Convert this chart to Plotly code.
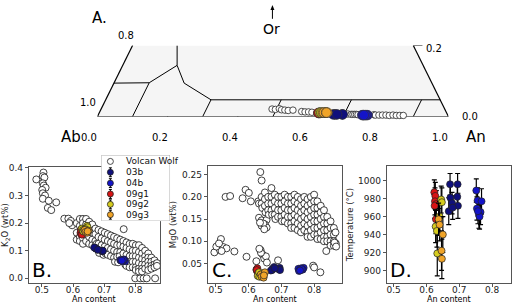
import plotly.graph_objects as go

W, H = 520, 306

# ---------------- data ----------------
# Volcan Wolf plagioclase, panel B (An content, K2O wt%)
vw_b = [
    (0.482, 0.358), (0.505, 0.383), (0.503, 0.370), (0.508, 0.365), (0.503, 0.344), (0.506, 0.336),
    (0.512, 0.328), (0.501, 0.320), (0.503, 0.308), (0.510, 0.300), (0.503, 0.288), (0.522, 0.281),
    (0.519, 0.255), (0.530, 0.247), (0.546, 0.275), (0.572, 0.216), (0.585, 0.216), (0.593, 0.208),
    (0.597, 0.192), (0.588, 0.200), (0.763, 0.178),
    (0.800, 0.0), (0.816, 0.0), (0.827, 0.0), (0.837, 0.0), (0.864, 0.0),
    (0.612, 0.200), (0.612, 0.165), (0.612, 0.140),
    (0.622, 0.215), (0.622, 0.190), (0.622, 0.150), (0.622, 0.135),
    (0.632, 0.215), (0.632, 0.200), (0.632, 0.145), (0.632, 0.125),
    (0.642, 0.215), (0.642, 0.195), (0.642, 0.160), (0.642, 0.135),
    (0.652, 0.205), (0.652, 0.185), (0.652, 0.150), (0.652, 0.125),
    (0.662, 0.195), (0.662, 0.165), (0.662, 0.140), (0.662, 0.120),
    (0.672, 0.180), (0.672, 0.160), (0.672, 0.135), (0.676, 0.125),
    (0.682, 0.175), (0.682, 0.150), (0.682, 0.125), (0.684, 0.092),
    (0.692, 0.170), (0.692, 0.145), (0.692, 0.120), (0.698, 0.085),
    (0.702, 0.165), (0.702, 0.140), (0.702, 0.115), (0.705, 0.090),
    (0.712, 0.160), (0.712, 0.135), (0.712, 0.110), (0.712, 0.085),
    (0.722, 0.155), (0.722, 0.130), (0.722, 0.105), (0.722, 0.080),
    (0.732, 0.150), (0.732, 0.125), (0.732, 0.100), (0.732, 0.075), (0.735, 0.060),
    (0.742, 0.145), (0.742, 0.120), (0.742, 0.095), (0.742, 0.078), (0.745, 0.058),
    (0.752, 0.140), (0.752, 0.120), (0.752, 0.095), (0.750, 0.080),
    (0.762, 0.135), (0.762, 0.115), (0.762, 0.090), (0.768, 0.050),
    (0.772, 0.130), (0.772, 0.110), (0.772, 0.085), (0.772, 0.065), (0.772, 0.045),
    (0.782, 0.125), (0.782, 0.105), (0.782, 0.080), (0.782, 0.060), (0.782, 0.040),
    (0.792, 0.125), (0.792, 0.100), (0.792, 0.080), (0.792, 0.060), (0.792, 0.040),
    (0.802, 0.120), (0.802, 0.100), (0.802, 0.080), (0.802, 0.060), (0.802, 0.040), (0.802, 0.030),
    (0.812, 0.120), (0.812, 0.095), (0.812, 0.075), (0.812, 0.055), (0.812, 0.035), (0.812, 0.025),
    (0.822, 0.110), (0.822, 0.090), (0.822, 0.070), (0.822, 0.050), (0.822, 0.035), (0.822, 0.025),
    (0.832, 0.100), (0.832, 0.080), (0.832, 0.065), (0.832, 0.050), (0.832, 0.035),
    (0.842, 0.090), (0.842, 0.075), (0.842, 0.060), (0.842, 0.045), (0.842, 0.030),
    (0.852, 0.075), (0.852, 0.060), (0.852, 0.045), (0.852, 0.035),
    (0.862, 0.065), (0.862, 0.050), (0.862, 0.040),
    (0.870, 0.055), (0.870, 0.045),
]

# Volcan Wolf plagioclase, panel C (An content, MgO wt%)
vw_c = [
    (0.496, 0.075), (0.508, 0.090), (0.516, 0.105), (0.513, 0.080), (0.523, 0.087), (0.533, 0.084),
    (0.557, 0.077), (0.518, 0.078), (0.502, 0.088), (0.510, 0.095),
    (0.530, 0.200), (0.544, 0.202), (0.582, 0.197), (0.591, 0.216), (0.601, 0.209), (0.607, 0.190),
    (0.594, 0.065), (0.636, 0.256), (0.640, 0.237),
    (0.624, 0.055), (0.637, 0.080), (0.643, 0.070), (0.648, 0.061), (0.653, 0.066), (0.656, 0.052),
    (0.638, 0.074), (0.633, 0.083), (0.690, 0.057), (0.797, 0.045), (0.800, 0.041), (0.819, 0.030),
    (0.632, 0.153), (0.640, 0.147), (0.655, 0.148), (0.650, 0.138), (0.640, 0.135), (0.655, 0.131),
    (0.645, 0.140), (0.635, 0.142), (0.648, 0.127),
    (0.630, 0.190), (0.632, 0.185),
    (0.640, 0.200), (0.640, 0.185), (0.642, 0.175),
    (0.650, 0.210), (0.650, 0.195), (0.650, 0.180), (0.652, 0.165),
    (0.660, 0.200), (0.660, 0.185), (0.660, 0.170), (0.662, 0.160),
    (0.670, 0.220), (0.670, 0.200), (0.670, 0.185), (0.670, 0.170), (0.672, 0.160),
    (0.680, 0.205), (0.680, 0.190), (0.680, 0.175), (0.680, 0.160), (0.682, 0.150),
    (0.690, 0.200), (0.690, 0.185), (0.690, 0.170), (0.690, 0.155),
    (0.700, 0.200), (0.700, 0.185), (0.700, 0.170), (0.700, 0.155), (0.702, 0.145),
    (0.710, 0.205), (0.710, 0.190), (0.710, 0.175), (0.710, 0.160), (0.710, 0.145),
    (0.720, 0.200), (0.720, 0.185), (0.720, 0.170), (0.720, 0.155), (0.720, 0.140),
    (0.730, 0.200), (0.730, 0.185), (0.730, 0.170), (0.730, 0.155), (0.730, 0.140), (0.730, 0.130),
    (0.740, 0.205), (0.740, 0.190), (0.740, 0.175), (0.740, 0.160), (0.740, 0.145), (0.740, 0.130),
    (0.750, 0.200), (0.750, 0.185), (0.750, 0.170), (0.750, 0.155), (0.750, 0.140), (0.750, 0.125),
    (0.760, 0.195), (0.760, 0.180), (0.760, 0.165), (0.760, 0.150), (0.760, 0.135), (0.760, 0.120),
    (0.770, 0.200), (0.770, 0.185), (0.770, 0.170), (0.770, 0.155), (0.770, 0.140), (0.770, 0.125),
    (0.780, 0.195), (0.780, 0.180), (0.780, 0.165), (0.780, 0.150), (0.780, 0.135), (0.780, 0.120),
    (0.780, 0.110),
    (0.790, 0.200), (0.790, 0.185), (0.790, 0.170), (0.790, 0.155), (0.790, 0.140), (0.790, 0.125),
    (0.790, 0.110),
    (0.800, 0.205), (0.800, 0.190), (0.800, 0.175), (0.800, 0.160), (0.800, 0.145), (0.800, 0.130),
    (0.800, 0.115),
    (0.810, 0.190), (0.810, 0.175), (0.810, 0.160), (0.810, 0.145), (0.810, 0.130), (0.810, 0.115),
    (0.810, 0.105),
    (0.820, 0.180), (0.820, 0.165), (0.820, 0.150), (0.820, 0.135), (0.820, 0.120), (0.820, 0.105),
    (0.830, 0.170), (0.830, 0.155), (0.830, 0.140), (0.830, 0.125), (0.830, 0.110), (0.830, 0.100),
    (0.840, 0.155), (0.840, 0.140), (0.840, 0.125), (0.840, 0.110), (0.840, 0.100),
    (0.850, 0.145), (0.850, 0.130), (0.850, 0.115), (0.850, 0.100), (0.850, 0.090),
    (0.860, 0.130), (0.860, 0.115), (0.860, 0.100), (0.860, 0.090),
    (0.865, 0.120), (0.866, 0.095),
    (0.837, 0.078), (0.862, 0.097), (0.867, 0.088),
]

# Volcan Wolf in the ternary (An, Or)
vw_tern_an = [0.487, 0.497, 0.507, 0.515, 0.525, 0.535, 0.548, 0.575, 0.585, 0.595, 0.605, 0.620,
              0.630, 0.700, 0.710, 0.720, 0.725, 0.730, 0.735, 0.740, 0.785, 0.790, 0.800, 0.810,
              0.820, 0.830, 0.840, 0.850, 0.860, 0.870]
vw_tern_or = [0.021, 0.020, 0.022, 0.019, 0.018, 0.017, 0.018, 0.014, 0.013, 0.013, 0.012, 0.011,
              0.010, 0.007, 0.007, 0.006, 0.006, 0.006, 0.006, 0.005, 0.005, 0.004, 0.004, 0.004,
              0.004, 0.003, 0.004, 0.003, 0.003, 0.003]

# Samples of this study
sample_names = ["03b", "04b", "09g1", "09g2", "09g3"]
sample_colors = ["#10107c", "#1414c8", "#d81414", "#d6cc1e", "#f0a428"]

an_03b = [0.672, 0.695, 0.673, 0.694, 0.678, 0.668, 0.696, 0.680]
k2o_03b = [0.110, 0.100, 0.108, 0.098, 0.105, 0.112, 0.100, 0.103]
mgo_03b = [0.035, 0.040, 0.038, 0.036, 0.042, 0.034, 0.035, 0.039]
t_03b = [996, 996, 981, 982, 975, 966, 972, 970]
terr_03b = [12, 12, 13, 13, 12, 15, 14, 13]
or_03b = [0.006, 0.006, 0.006, 0.006, 0.006, 0.006, 0.006, 0.006]

an_04b = [0.752, 0.756, 0.768, 0.765, 0.754, 0.760, 0.762, 0.757]
k2o_04b = [0.066, 0.064, 0.062, 0.068, 0.065, 0.063, 0.067, 0.064]
mgo_04b = [0.038, 0.035, 0.040, 0.036, 0.033, 0.039, 0.037, 0.034]
t_04b = [989, 978, 977, 965, 969, 962, 960, 966]
terr_04b = [13, 14, 14, 14, 13, 15, 14, 14]
or_04b = [0.004, 0.004, 0.004, 0.004, 0.004, 0.004, 0.004, 0.004]

an_09g1 = [0.624, 0.627, 0.626, 0.630, 0.625, 0.629]
k2o_09g1 = [0.165, 0.172, 0.160, 0.168, 0.175, 0.158]
mgo_09g1 = [0.036, 0.039, 0.033, 0.030, 0.035, 0.028]
t_09g1 = [987, 983, 977, 974, 972, 957]
terr_09g1 = [14, 15, 15, 15, 14, 16]
or_09g1 = [0.010, 0.010, 0.010, 0.010, 0.010, 0.010]

an_09g2 = [0.645, 0.647, 0.628, 0.632, 0.633, 0.640]
k2o_09g2 = [0.190, 0.185, 0.180, 0.175, 0.170, 0.178]
mgo_09g2 = [0.028, 0.025, 0.022, 0.030, 0.020, 0.026]
t_09g2 = [979, 976, 949, 944, 919, 960]
terr_09g2 = [15, 16, 18, 18, 25, 17]
or_09g2 = [0.011, 0.011, 0.011, 0.011, 0.011, 0.011]

an_09g3 = [0.637, 0.640, 0.650, 0.646, 0.647]
k2o_09g3 = [0.175, 0.168, 0.172, 0.165, 0.170]
mgo_09g3 = [0.025, 0.020, 0.030, 0.018, 0.023]
t_09g3 = [957, 951, 940, 922, 913]
terr_09g3 = [18, 18, 20, 22, 22]
or_09g3 = [0.011, 0.011, 0.011, 0.011, 0.011]

samples = [
    (an_03b, k2o_03b, mgo_03b, t_03b, terr_03b, or_03b),
    (an_04b, k2o_04b, mgo_04b, t_04b, terr_04b, or_04b),
    (an_09g1, k2o_09g1, mgo_09g1, t_09g1, terr_09g1, or_09g1),
    (an_09g2, k2o_09g2, mgo_09g2, t_09g2, terr_09g2, or_09g2),
    (an_09g3, k2o_09g3, mgo_09g3, t_09g3, terr_09g3, or_09g3),
]

# feldspar field boundaries, as (An, Or) compositions
field_lines = [
    [(0.0, 0.094), (0.1, 0.095), (0.155, 0.144), (0.127, 0.2)],
    [(0.155, 0.144), (0.2, 0.094), (0.3, 0.047), (0.953, 0.047)],
    [(0.1, 0.0), (0.1, 0.095)],
    [(0.3, 0.0), (0.3, 0.047)],
    [(0.5, 0.0), (0.5, 0.047)],
    [(0.7, 0.0), (0.7, 0.047)],
    [(0.9, 0.0), (0.9, 0.047)],
]
tern_bottom_ticks = [0.0, 0.2, 0.4, 0.6, 0.8, 1.0]

# ---------------- helpers ----------------
TX0, TX1, TY0, TY1 = 95, 448, 114, 42   # pixel frame of the ternary strip (Or 0..0.2)


def tx(an, orr):
    return [a + o / 2 for a, o in zip(an, orr)]


def tern_px(an, orr):
    xc = an + orr / 2
    return TX0 + xc * (TX1 - TX0), TY0 - orr / 0.2 * (TY0 - TY1)


def dx(a, b):
    return [a / W, b / W]


def dy(top, bottom):
    return [1 - bottom / H, 1 - top / H]


fig = go.Figure()

# ---------------- panel A: ternary strip ----------------
corners_an = [0.0, 1.0, 0.8, 0.0, 0.0]
corners_or = [0.0, 0.0, 0.2, 0.2, 0.0]
fig.add_trace(go.Scatter(x=tx(corners_an, corners_or), y=corners_or, mode="lines", fill="toself",
                         fillcolor="#f5f5f5", line=dict(width=0), xaxis="x4", yaxis="y4",
                         hoverinfo="skip", showlegend=False))
edge_an = [0.0, 0.0, None, 0.0, 1.0, None, 1.0, 0.8]
edge_or = [0.2, 0.0, None, 0.0, 0.0, None, 0.0, 0.2]
ex = [None if a is None else a + o / 2 for a, o in zip(edge_an, edge_or)]
fig.add_trace(go.Scatter(x=ex, y=edge_or, mode="lines", line=dict(color="black", width=1.2),
                         xaxis="x4", yaxis="y4", hoverinfo="skip", showlegend=False, cliponaxis=False))
fx, fy = [], []
for seg in field_lines:
    for a, o in seg:
        fx.append(a + o / 2)
        fy.append(o)
    fx.append(None)
    fy.append(None)
fig.add_trace(go.Scatter(x=fx, y=fy, mode="lines", line=dict(color="black", width=1),
                         xaxis="x4", yaxis="y4", hoverinfo="skip", showlegend=False))
# tick marks
kx, ky = [], []
for v in tern_bottom_ticks:
    kx += [v, v - 0.007, None]
    ky += [0, -0.014, None]
for o in [0.0, 0.2]:
    kx += [o / 2, o / 2 - 0.0095, None]
    ky += [o, o + 0.0095, None]
    kx += [1 - o / 2, 1 - o / 2 + 0.026, None]
    ky += [o, o, None]
fig.add_trace(go.Scatter(x=kx, y=ky, mode="lines", line=dict(color="black", width=1),
                         xaxis="x4", yaxis="y4", hoverinfo="skip", showlegend=False, cliponaxis=False))
fig.add_trace(go.Scatter(x=tx(vw_tern_an, vw_tern_or), y=vw_tern_or, mode="markers",
                         marker=dict(size=6.5, color="white", line=dict(color="#222", width=0.8)),
                         xaxis="x4", yaxis="y4", showlegend=False, cliponaxis=False))
for (an, k, m, t, te, orr), col in zip(samples, sample_colors):
    fig.add_trace(go.Scatter(x=tx(an, orr), y=orr, mode="markers",
                             marker=dict(size=9.5, color=col, line=dict(color="#333", width=0.6)),
                             xaxis="x4", yaxis="y4", showlegend=False, cliponaxis=False))

# ---------------- panels B, C, D ----------------
wm = dict(size=7, color="white", line=dict(color="#111", width=0.8))
fig.add_trace(go.Scatter(x=[p[0] for p in vw_b], y=[p[1] for p in vw_b], mode="markers", marker=wm,
                         xaxis="x", yaxis="y", showlegend=False, cliponaxis=False))
fig.add_trace(go.Scatter(x=[p[0] for p in vw_c], y=[p[1] for p in vw_c], mode="markers", marker=wm,
                         xaxis="x2", yaxis="y2", showlegend=False, cliponaxis=False))
for (an, k, m, t, te, orr), col in zip(samples, sample_colors):
    cm = dict(size=7, color=col, line=dict(color="#222", width=0.7))
    fig.add_trace(go.Scatter(x=an, y=k, mode="markers", marker=cm, xaxis="x", yaxis="y",
                             error_y=dict(type="constant", value=0.01, color="black", thickness=1, width=2),
                             showlegend=False))
    fig.add_trace(go.Scatter(x=an, y=m, mode="markers", marker=cm, xaxis="x2", yaxis="y2",
                             error_y=dict(type="constant", value=0.004, color="black", thickness=1, width=2),
                             showlegend=False))
    fig.add_trace(go.Scatter(x=an, y=t, mode="markers", marker=cm, xaxis="x3", yaxis="y3",
                             error_y=dict(type="data", array=te, color="black", thickness=1.2, width=2.5),
                             showlegend=False))

# ---------------- custom legend (panel B) ----------------
fig.add_trace(go.Scatter(x=[99, 168, 168, 99, 99], y=[153, 153, 220, 220, 153], mode="lines",
                         fill="toself", fillcolor="white", line=dict(color="#999", width=0.8),
                         xaxis="x5", yaxis="y5", hoverinfo="skip", showlegend=False, cliponaxis=False))
leg_names = ["Volcan Wolf"] + sample_names
leg_colors = ["white"] + sample_colors
row_y = [159.5, 170.5, 181.5, 192.5, 203, 213.5]
for i, (nm, col) in enumerate(zip(leg_names, leg_colors)):
    eb = None if i == 0 else dict(type="constant", value=4.5, color="black", thickness=1, width=1.5)
    fig.add_trace(go.Scatter(x=[108], y=[row_y[i]], mode="markers",
                             marker=dict(size=6, color=col, line=dict(color="#222", width=0.8)),
                             error_y=eb, xaxis="x5", yaxis="y5", showlegend=False, cliponaxis=False))
    fig.add_annotation(x=122, y=row_y[i], xref="x5", yref="y5", text=nm, showarrow=False,
                       xanchor="left", yanchor="middle", font=dict(size=9, color="#111"))

# ---------------- axes ----------------
common = dict(showline=True, mirror=True, linecolor="#555", linewidth=1, ticks="outside", ticklen=3,
              tickcolor="#555", showgrid=False, zeroline=False, tickfont=dict(size=9, color="#222"))
xt = dict(tickvals=[0.5, 0.6, 0.7, 0.8], ticktext=["0.5", "0.6", "0.7", "0.8"], ticklabelstandoff=-5)
hidden = dict(visible=False, showgrid=False, zeroline=False)
fig.update_layout(
    width=W, height=H, margin=dict(l=0, r=0, t=0, b=0),
    paper_bgcolor="white", plot_bgcolor="white",
    font=dict(family="DejaVu Sans", color="#222"),
    showlegend=False,
    xaxis=dict(domain=dx(26, 158), range=[0.458, 0.88], anchor="y", **common, **xt),
    yaxis=dict(domain=dy(165, 283), range=[-0.018, 0.4036], anchor="x", **common,
               tickvals=[0, 0.1, 0.2, 0.3, 0.4], tickformat=".1f",
               title=dict(text="K<sub>2</sub>O (wt%)", font=dict(size=8.5), standoff=3)),
    xaxis2=dict(domain=dx(206, 341), range=[0.476, 0.885], anchor="y2", **common, **xt),
    yaxis2=dict(domain=dy(164, 283), range=[0.0052, 0.27], anchor="x2", **common,
                tickvals=[0.05, 0.10, 0.15, 0.20, 0.25], tickformat=".2f",
                title=dict(text="MgO (wt%)", font=dict(size=8.5), standoff=3)),
    xaxis3=dict(domain=dx(386, 511), range=[0.479, 0.858], anchor="y3", **common, **xt),
    yaxis3=dict(domain=dy(164, 283), range=[885.7, 1016.5], anchor="x3", **common,
                tickvals=[900, 920, 940, 960, 980, 1000],
                title=dict(text="Temperature (°C)", font=dict(size=8.5), standoff=3)),
    xaxis4=dict(domain=dx(TX0, TX1), range=[0, 1], anchor="y4", **hidden),
    yaxis4=dict(domain=dy(TY1, TY0), range=[0, 0.2], anchor="x4", **hidden),
    xaxis5=dict(domain=dx(99, 168), range=[99, 168], anchor="y5", **hidden),
    yaxis5=dict(domain=dy(153, 220), range=[220, 153], anchor="x5", **hidden),
)


# ---------------- text ----------------
def pa(text, x, y, size, xanchor="center", yanchor="middle"):
    fig.add_annotation(x=x / W, y=1 - y / H, xref="paper", yref="paper", text=text, showarrow=False,
                       xanchor=xanchor, yanchor=yanchor, font=dict(size=size, color="black"))


for v in tern_bottom_ticks:
    px, py = tern_px(v, 0.0)
    pa(f"{v:.1f}", px - 8, py + 21, 10)
px, py = tern_px(0.0, 0.0)
pa("1.0", px - 10, py - 14, 10)
pa("Ab", px - 27, py + 21, 15)
px, py = tern_px(0.0, 0.2)
pa("0.8", px - 7, py - 10, 10)
px, py = tern_px(0.8, 0.2)
pa("0.2", px + 11, py + 3, 10, xanchor="left")
px, py = tern_px(1.0, 0.0)
pa("0.0", px + 12, py, 10, xanchor="left")
pa("An", px + 28, py + 21, 15)

pa("Or", 270, 25, 14)
fig.add_shape(type="line", x0=271 / W, x1=271 / W, y0=1 - 15 / H, y1=1 - 5 / H, xref="paper",
              yref="paper", line=dict(color="black", width=1))
fig.add_shape(type="path", xref="paper", yref="paper", fillcolor="black", line=dict(width=0),
              path=f"M {269 / W},{1 - 6 / H} L {273 / W},{1 - 6 / H} L {271 / W},{1 - 1 / H} Z")
pa("A.", 97, 14, 15)
pa("B.", 27, 284, 20, xanchor="left", yanchor="bottom")
pa("C.", 208, 284, 20, xanchor="left", yanchor="bottom")
pa("D.", 387, 284, 20, xanchor="left", yanchor="bottom")
for cx in [92, 273.5, 448.5]:
    fig.add_annotation(x=cx / W, y=0.5 / H, xref="paper", yref="paper", text="An content",
                       showarrow=False, xanchor="center", yanchor="bottom",
                       font=dict(size=8, color="black"))

fig.write_html("out.html", config={"displayModeBar": False},
               post_script="document.body.style.margin='0';")
